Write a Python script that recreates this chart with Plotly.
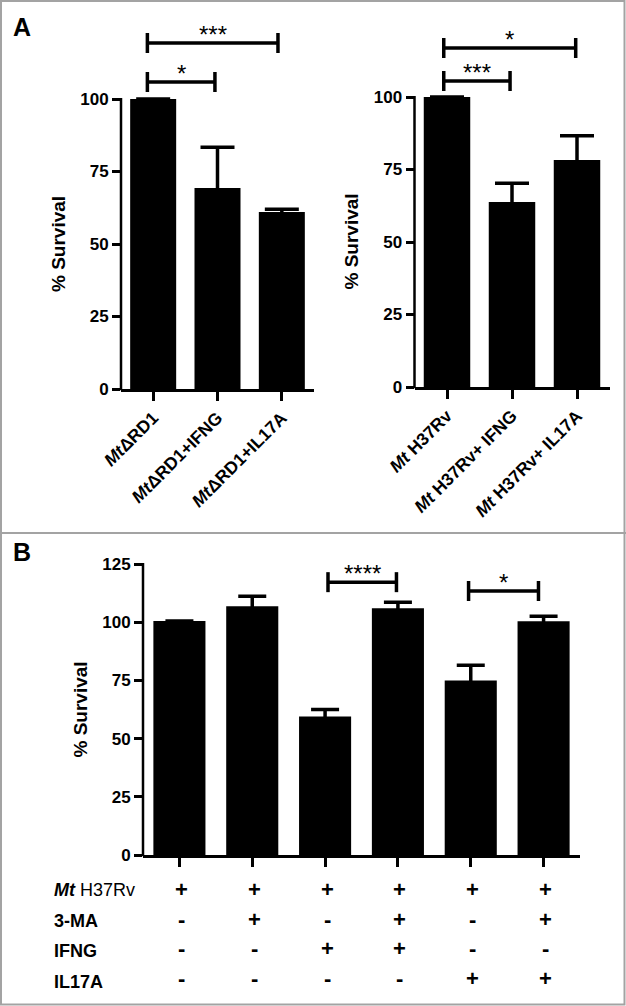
import plotly.graph_objects as go

W, H = 626, 1006
FONT = "Liberation Sans, Arial, Helvetica, sans-serif"

# ---------------- data ----------------
a1_labels = ["<i>Mt</i>ΔRD1", "<i>Mt</i>ΔRD1+IFNG", "<i>Mt</i>ΔRD1+IL17A"]
a1_values = [100.0, 69.3, 61.0]
a1_err = [0.0, 14.1, 1.0]

a2_labels = ["<i>Mt</i> H37Rv", "<i>Mt</i> H37Rv+ IFNG", "<i>Mt</i> H37Rv+ IL17A"]
a2_values = [100.0, 63.8, 78.3]
a2_err = [0.0, 6.5, 8.3]

b_values = [100.5, 106.9, 59.5, 106.0, 75.0, 100.4]
b_err = [0.0, 4.3, 3.0, 2.6, 6.5, 2.2]

a_ticks = [0, 25, 50, 75, 100]
b_ticks = [0, 25, 50, 75, 100, 125]

table_rows = ["<b><i>Mt</i></b> H37Rv", "<b>3-MA</b>", "<b>IFNG</b>", "<b>IL17A</b>"]
table_signs = [
    ["+", "+", "+", "+", "+", "+"],
    ["-", "+", "-", "+", "-", "+"],
    ["-", "-", "+", "+", "-", "-"],
    ["-", "-", "-", "-", "+", "+"],
]

# significance brackets: (x start, x end, y level, label)
a1_sig = [(-0.09, 0.96, 105.9, "*"), (-0.09, 1.94, 119.3, "***")]
a2_sig = [(-0.05, 0.97, 105.5, "***"), (-0.05, 1.98, 116.9, "*")]
b_sig = [(2.04, 2.98, 117.2, "****"), (3.97, 4.93, 113.4, "*")]

# ---------------- layout geometry (pixels) ----------------
panels = [
    dict(xa="x", ya="y", xl=121, xr=314, y0=389, ppu=2.9, ymax=125, ncat=3,
         labels=a1_labels, values=a1_values, err=a1_err, sig=a1_sig,
         ticks=a_ticks, axis_top=100, cap=17),
    dict(xa="x2", ya="y2", xl=414.5, xr=609.5, y0=387, ppu=2.9, ymax=125, ncat=3,
         labels=a2_labels, values=a2_values, err=a2_err, sig=a2_sig,
         ticks=a_ticks, axis_top=100, cap=17),
    dict(xa="x3", ya="y3", xl=143, xr=580, y0=855, ppu=2.328, ymax=125, ncat=6,
         labels=None, values=b_values, err=b_err, sig=b_sig,
         ticks=b_ticks, axis_top=125, cap=14),
]


def fx(p):
    return p / W


def fy(p):
    return 1 - p / H


fig = go.Figure()
shapes = []
annotations = []
layout = {}

for i, p in enumerate(panels):
    n = p["ncat"]
    xs = list(range(n))
    fig.add_trace(go.Bar(
        x=xs, y=p["values"], width=0.715, xaxis=p["xa"], yaxis=p["ya"],
        marker=dict(color="black", line=dict(width=0)),
        error_y=dict(type="data", array=p["err"], symmetric=True,
                     color="black", thickness=3.5, width=p["cap"]),
        hoverinfo="skip",
    ))
    ytop_px = p["y0"] - p["ymax"] * p["ppu"]
    xkey = "xaxis" if i == 0 else f"xaxis{i+1}"
    ykey = "yaxis" if i == 0 else f"yaxis{i+1}"
    xdict = dict(
        domain=[fx(p["xl"]), fx(p["xr"])], range=[-0.5, n - 0.5],
        anchor=p["ya"], showline=True, linecolor="black", linewidth=2.5,
        ticks="outside", ticklen=9, tickwidth=2.5, tickcolor="black",
        showgrid=False, zeroline=False, tickvals=xs, fixedrange=True,
        automargin=False,
    )
    if p["labels"]:
        xdict.update(ticktext=p["labels"], tickangle=-45,
                     tickfont=dict(family=FONT, size=17.5, color="black", weight="bold"))
    else:
        xdict.update(showticklabels=False)
    layout[xkey] = xdict
    layout[ykey] = dict(
        domain=[fy(p["y0"]), fy(ytop_px)], range=[0, p["ymax"]],
        anchor=p["xa"], showline=False, showgrid=False, zeroline=False,
        ticks="outside", ticklen=8, tickwidth=2.5, tickcolor="black",
        tickvals=p["ticks"], fixedrange=True, automargin=False,
        tickfont=dict(family=FONT, size=17, color="black", weight="bold"),
    )
    # y axis line from 0 to axis_top
    shapes.append(dict(type="line", xref="paper", yref="paper",
                       x0=fx(p["xl"]), x1=fx(p["xl"]),
                       y0=fy(p["y0"] + 1.25), y1=fy(p["y0"] - p["axis_top"] * p["ppu"] - 1),
                       line=dict(color="black", width=2.5)))
    # y title
    annotations.append(dict(
        text="<b>% Survival</b>", textangle=-90, xref="paper", yref="paper",
        x=fx(p["xl"] - 63), y=fy(p["y0"] - p["axis_top"] * p["ppu"] / 2),
        xanchor="center", yanchor="middle", showarrow=False,
        font=dict(family=FONT, size=19, color="black")))
    # significance brackets
    half = 10 / p["ppu"]
    for (xa0, xa1, yv, lab) in p["sig"]:
        for (sx0, sx1, sy0, sy1) in [(xa0, xa1, yv, yv), (xa0, xa0, yv - half, yv + half),
                                     (xa1, xa1, yv - half, yv + half)]:
            shapes.append(dict(type="line", xref=p["xa"], yref=p["ya"],
                               x0=sx0, x1=sx1, y0=sy0, y1=sy1,
                               line=dict(color="black", width=3.5)))
        annotations.append(dict(
            text=lab, xref=p["xa"], yref=p["ya"], x=(xa0 + xa1) / 2, y=yv,
            xanchor="center", yanchor="bottom", yshift=-7, showarrow=False,
            font=dict(family=FONT, size=24, color="black")))

# table under panel B
row_label_y = [890, 921, 951, 982]
row_sign_y = [889, 919, 948, 978]
for r, lab in enumerate(table_rows):
    annotations.append(dict(
        text=lab, xref="paper", yref="paper", x=fx(52), y=fy(row_label_y[r]),
        xanchor="left", yanchor="middle", showarrow=False,
        font=dict(family=FONT, size=18, color="black")))
    for c, s in enumerate(table_signs[r]):
        annotations.append(dict(
            text=s, xref="x3", yref="paper", x=c, y=fy(row_sign_y[r]), xshift=2,
            xanchor="center", yanchor="middle", showarrow=False,
            font=dict(family=FONT, size=22, color="black", weight="bold")))

# panel letters
annotations.append(dict(text="<b>A</b>", xref="paper", yref="paper", x=fx(11), y=fy(27),
                        xanchor="left", yanchor="middle", showarrow=False,
                        font=dict(family=FONT, size=25, color="black")))
annotations.append(dict(text="<b>B</b>", xref="paper", yref="paper", x=fx(11), y=fy(552),
                        xanchor="left", yanchor="middle", showarrow=False,
                        font=dict(family=FONT, size=25, color="black")))

# panel frames
GRAY = "#a3a3a3"
shapes.append(dict(type="rect", xref="paper", yref="paper",
                   x0=fx(1), x1=fx(624.5), y0=fy(1004.5), y1=fy(1),
                   line=dict(color=GRAY, width=2)))
shapes.append(dict(type="line", xref="paper", yref="paper",
                   x0=0, x1=1, y0=fy(533), y1=fy(533),
                   line=dict(color=GRAY, width=2)))

fig.update_layout(
    template="none",
    width=W, height=H, margin=dict(l=0, r=0, t=0, b=0, pad=0, autoexpand=False),
    paper_bgcolor="white", plot_bgcolor="white", showlegend=False,
    barmode="overlay", shapes=shapes, annotations=annotations,
    font=dict(family=FONT, color="black"),
    **layout,
)

fig.write_html(
    "out.html",
    config={"displayModeBar": False},
    post_script="document.body.style.margin='0';document.documentElement.style.overflow='hidden';",
)
